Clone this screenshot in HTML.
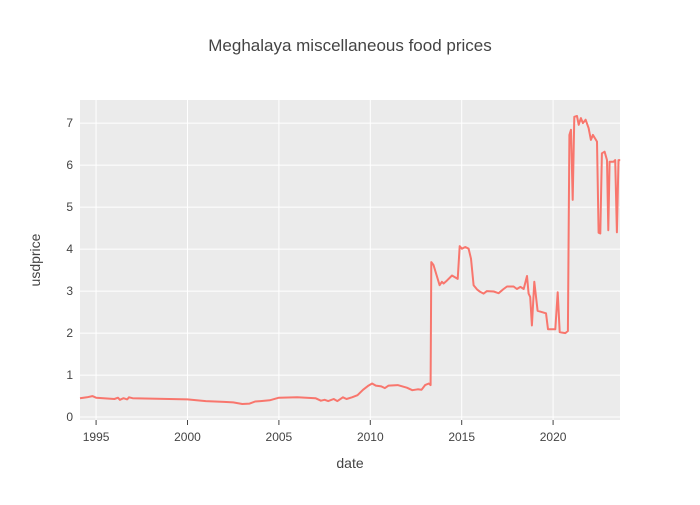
<!DOCTYPE html>
<html><head><meta charset="utf-8"><style>
body{margin:0;background:#fff;font-family:"Liberation Sans",sans-serif}
svg text{font-family:"Liberation Sans",sans-serif;fill:#444}
</style></head><body>
<svg id="chart" width="700" height="500">
<rect x="0" y="0" width="700" height="500" fill="#fff"/>
<rect x="80" y="100" width="540" height="320" fill="#ebebeb"/>
<g id="grid"></g><g id="ticks"></g>
<path id="line" fill="none" stroke="#f8766d" stroke-width="2" stroke-linejoin="round"/>
<text x="350" y="51" text-anchor="middle" font-size="17">Meghalaya miscellaneous food prices</text>
<text x="350" y="468" text-anchor="middle" font-size="14">date</text>
<text x="40" y="260" text-anchor="middle" font-size="14" transform="rotate(-90 40 260)">usdprice</text>
</svg>
<script>
const dates=[1994.12,1994.5,1994.8,1995,1996,1996.2,1996.3,1996.5,1996.7,1996.8,1997,2000,2000.5,2001,2002,2002.5,2003,2003.4,2003.7,2004,2004.5,2005,2006,2006.5,2007,2007.3,2007.5,2007.7,2008,2008.2,2008.5,2008.7,2009,2009.3,2009.6,2009.9,2010.1,2010.3,2010.6,2010.8,2011,2011.5,2012,2012.3,2012.6,2012.8,2013,2013.2,2013.3,
2013.34,2013.46,2013.79,2013.92,2014.01,2014.19,2014.47,2014.78,2014.89,2015.01,2015.20,2015.38,2015.51,2015.65,2015.84,2016.02,2016.20,2016.38,2016.75,2017.02,2017.29,2017.48,2017.84,2018.02,2018.21,2018.39,2018.57,2018.66,2018.75,2018.84,2018.97,2019.15,2019.61,2019.72,2020.12,2020.25,2020.36,2020.67,2020.81,2020.89,2020.98,2021.07,2021.16,2021.31,2021.40,2021.52,2021.63,2021.78,2021.94,2022.07,2022.18,2022.40,2022.49,2022.58,2022.67,2022.82,2022.95,2023.02,2023.09,2023.31,2023.40,2023.49,2023.58,2023.67];
const prices=[0.45,0.47,0.5,0.46,0.43,0.46,0.41,0.45,0.42,0.47,0.45,0.42,0.40,0.38,0.36,0.35,0.31,0.32,0.37,0.38,0.40,0.46,0.47,0.46,0.45,0.39,0.41,0.38,0.43,0.38,0.47,0.43,0.47,0.52,0.65,0.75,0.80,0.75,0.73,0.69,0.75,0.76,0.70,0.64,0.66,0.65,0.76,0.80,0.76,
3.69,3.62,3.14,3.22,3.18,3.25,3.37,3.29,4.07,4.01,4.05,4.01,3.77,3.14,3.04,2.98,2.94,3.00,2.99,2.95,3.05,3.11,3.11,3.05,3.10,3.05,3.36,2.94,2.86,2.18,3.22,2.53,2.47,2.09,2.09,2.97,2.02,2.00,2.05,6.72,6.84,5.17,7.15,7.17,6.96,7.12,7.00,7.08,6.88,6.60,6.72,6.56,4.39,4.37,6.28,6.32,6.12,4.45,6.08,6.08,6.12,4.40,6.12,6.12];
const xTicks=[1995,2000,2005,2010,2015,2020];
const yTicks=[0,1,2,3,4,5,6,7];
const X0=1994.12,X1=2023.66,Y0=-0.07,Y1=7.55;
const sx=v=>80+(v-X0)/(X1-X0)*540;
const sy=v=>420-(v-Y0)/(Y1-Y0)*320;
const NS="http://www.w3.org/2000/svg";
const grid=document.getElementById('grid'),tk=document.getElementById('ticks');
function mk(tag,attrs,parent){const e=document.createElementNS(NS,tag);for(const k in attrs)e.setAttribute(k,attrs[k]);parent.appendChild(e);return e;}
xTicks.forEach(t=>{
  const l=mk('line',{x1:sx(t),x2:sx(t),y1:100,y2:420,stroke:'#fff','stroke-width':1},grid);
  
  
  const m=mk('line',{x1:sx(t),x2:sx(t),y1:420,y2:425,stroke:'#444','stroke-width':1},tk);
  
  
  const tx=mk('text',{x:sx(t),y:441,'text-anchor':'middle','font-size':12},tk);
  tx.textContent=t;
  
  
});
yTicks.forEach(t=>{
  const l=mk('line',{x1:80,x2:620,y1:sy(t),y2:sy(t),stroke:'#fff','stroke-width':1},grid);
  
  
  const tx=mk('text',{x:73,y:sy(t)+4,'text-anchor':'end','font-size':12},tk);
  tx.textContent=t;
  
  
});
document.getElementById('line').setAttribute('d',dates.map((d,i)=>(i?'L':'M')+sx(d).toFixed(1)+','+sy(prices[i]).toFixed(1)).join(''));
</script>
</body></html>
